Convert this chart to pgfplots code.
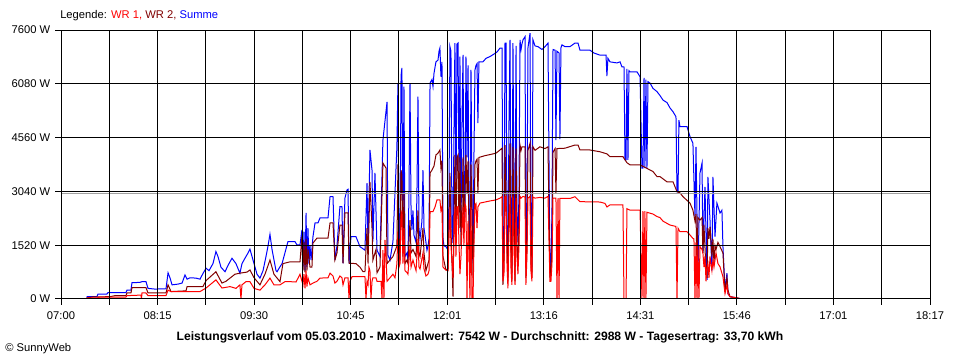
\documentclass[border=0pt]{standalone}
\usepackage{fontspec}
\setmainfont{Liberation Sans}
\usepackage{pgfplots}
\pgfplotsset{compat=1.18}
\usepackage{pgfplotstable}
\definecolor{wrone}{RGB}{255,0,0}
\definecolor{wrtwo}{RGB}{128,0,0}
\definecolor{summe}{RGB}{0,0,255}
\definecolor{avgc}{RGB}{160,160,160}
\newcommand\sw{\fontsize{8.4bp}{10bp}\selectfont}
\newcommand\tw{\fontsize{9.1bp}{11bp}\selectfont}

% time in minutes since 07:00, power in W
\pgfplotstableread{
t w
10.9 0
20.3 0
20.3 65
28.0 65
28.8 140
35.8 140
36.6 180
50.6 180
51.4 250
54.5 250
55.3 460
61.5 470
63.1 490
66.2 490
67.8 300
73.2 280
81.8 290
83.4 740
84.9 600
86.5 400
91.1 420
94.3 450
96.6 680
98.2 560
100.5 600
105.2 590
108.3 560
110.6 720
113.0 870
115.3 800
118.4 1000
120.7 1340
122.3 1200
124.6 900
127.8 770
130.1 950
133.2 1150
136.3 1000
139.4 730
141.0 1000
143.3 1150
145.7 1300
147.2 1410
149.6 1100
152.7 700
155.0 590
157.4 800
159.7 1200
161.3 1500
162.8 1830
164.4 1400
167.5 800
168.3 770
170.6 910
172.2 1000
173.7 1200
176.8 1620
182.3 1620
183.8 1530
186.2 1530
187.7 1950
188.5 900
189.3 1900
190.1 800
190.9 2430
191.6 900
192.4 2000
193.2 1000
194.0 1500
194.8 1100
196.3 1760
197.9 2150
200.2 2150
201.8 2290
208.0 2290
209.6 2890
211.9 2890
213.4 1100
215.0 1500
217.3 2610
218.9 2610
219.7 1010
221.2 2850
222.8 3080
223.6 3100
224.4 1010
225.9 1760
229.8 1760
232.9 1480
236.8 1380
238.4 3270
239.2 1480
240.7 4210
242.3 3640
243.0 1620
244.6 3560
246.2 1380
248.5 1200
250.8 4490
254.0 5570
254.7 1240
256.3 1100
258.6 1620
261.7 4300
262.5 6100
263.3 1380
264.1 1380
264.9 6300
265.6 6530
266.4 1500
267.2 6000
268.0 1200
269.5 1300
270.3 1100
271.1 3000
271.9 6100
272.7 2500
273.4 1950
274.2 2500
275.0 1800
276.6 1600
277.3 3000
278.1 5720
278.9 2000
279.7 1700
281.2 2200
282.0 3640
282.8 2000
283.6 1800
285.1 1380
285.9 1500
286.7 1700
287.5 6100
289.0 6200
289.8 6000
290.6 6380
292.1 6700
293.7 6750
294.5 7000
295.2 7090
296.0 6280
296.8 6700
297.6 1700
298.4 1500
299.9 1480
301.5 1380
302.3 3000
303.0 7130
303.8 7000
304.6 2000
305.4 1580
306.2 5000
306.9 7230
307.7 2500
308.5 7200
309.3 7230
310.1 3000
310.8 6850
311.6 1900
312.4 5000
313.2 6900
313.9 3000
314.7 2300
315.5 6850
316.3 4000
317.1 6600
317.8 2500
318.6 1010
319.4 6470
320.2 3000
321.0 1010
321.7 4000
322.5 6470
323.3 6600
324.1 6650
324.8 4970
325.6 6700
328.7 6700
331.1 6800
334.2 6850
337.3 6920
339.7 6980
342.0 7090
343.6 7090
344.3 630
345.1 1500
345.9 7230
346.7 7230
347.5 1700
348.2 900
349.0 5000
349.8 7320
350.6 2000
351.3 920
352.1 7230
352.9 3000
353.7 900
354.5 7150
355.2 2500
356.0 1600
356.8 3000
357.6 7320
358.4 7050
359.1 7200
359.9 7320
361.5 7410
362.2 900
363.0 2500
363.8 7100
365.4 7510
366.1 1800
366.9 900
367.7 7320
369.3 7150
371.6 7130
374.7 7050
377.1 7130
379.4 7230
380.9 820
381.7 820
382.5 2500
383.3 7050
384.9 7030
385.6 4490
386.4 7000
388.0 6950
388.7 4520
389.5 7100
390.3 7180
392.6 7130
396.5 7130
400.4 7230
402.8 7230
404.3 7030
412.1 7030
415.2 6950
419.9 6890
424.6 6890
425.3 6300
426.1 6800
427.7 6700
433.1 6670
435.5 6700
437.0 6560
438.6 6560
439.4 3930
440.2 3930
440.9 6500
441.7 3930
442.5 6450
443.3 6420
448.7 6420
451.1 6280
452.6 3700
453.4 3700
454.2 6250
454.9 3700
455.7 6200
456.5 3700
457.3 6140
458.9 6100
461.2 5950
464.3 5860
466.6 5750
469.0 5620
472.1 5550
474.4 5400
476.8 5290
479.1 5150
479.9 3030
480.7 3030
481.4 5050
482.2 4870
487.7 4870
490.0 4590
492.3 4400
493.9 2330
494.7 4300
496.2 630
497.8 3560
499.4 3840
500.1 1300
501.7 3170
503.3 540
504.0 3450
505.6 2230
507.1 800
507.9 3450
509.5 1760
511.0 2710
513.4 2430
514.9 2510
515.7 1480
517.3 250
518.8 730
519.6 150
521.2 65
526.6 30
530.5 0
}\summetab

\pgfplotstableread{
t w
20.3 0
20.3 30
24.9 60
38.2 65
42.1 95
50.6 95
51.4 170
54.5 170
55.3 320
66.2 320
67.8 170
81.8 170
83.4 400
85.7 210
97.4 230
98.2 350
110.6 350
113.0 520
120.7 770
125.4 450
128.5 500
135.5 700
139.4 730
144.9 760
147.2 820
150.4 600
155.0 400
158.9 700
162.8 1100
165.9 700
170.6 490
172.9 1000
178.4 1050
186.2 1050
187.7 1760
188.5 800
189.3 1600
190.1 750
190.9 1700
191.6 800
192.4 1400
194.0 900
195.5 900
196.3 1580
199.4 1720
208.0 1720
209.6 2150
211.9 2150
213.4 1100
215.0 1300
217.3 2090
218.9 2090
219.7 1010
221.2 2430
223.6 2430
224.4 1010
229.8 1000
232.9 900
235.3 770
236.8 770
238.4 2000
239.2 1000
240.7 3310
242.3 2000
243.0 1100
245.4 1400
246.2 740
248.5 900
250.8 3840
253.2 3700
254.0 1000
256.3 1100
258.6 1200
261.7 1500
262.5 3800
263.3 1100
264.1 1100
264.9 3640
265.6 3500
266.4 1200
267.2 3000
268.0 1000
269.5 1100
270.3 1000
271.9 2230
272.7 1300
274.2 1400
276.6 1200
278.1 2500
278.9 1300
279.7 1200
282.0 2000
282.8 1300
284.3 800
285.9 1000
286.7 1100
287.5 3560
289.0 3640
290.6 3760
292.1 4070
293.7 4120
295.2 4210
296.0 3700
296.8 3900
297.6 1200
299.9 820
301.5 850
303.0 3560
303.8 2000
305.4 65
306.2 2500
306.9 4070
307.7 1500
308.5 4000
309.3 4070
310.1 2000
310.8 4000
311.6 1500
312.4 2500
313.2 4000
313.9 2000
314.7 2900
315.5 4070
316.3 3000
317.1 3900
317.8 2000
318.6 1100
319.4 3800
320.2 2500
321.0 600
321.7 2000
322.5 3800
323.3 3900
324.1 3950
324.8 3000
325.6 4000
330.3 4050
334.2 4080
338.9 4120
342.0 4210
343.6 4260
344.3 400
345.1 1000
345.9 4350
347.5 1500
348.2 500
349.0 3000
349.8 4400
350.6 1200
351.3 500
352.1 4300
352.9 2000
353.7 500
354.5 4250
355.2 1500
356.0 1000
356.8 2000
357.6 4350
358.4 4200
359.1 4300
361.5 4300
362.2 600
363.0 1500
363.8 4200
365.4 4400
366.1 1000
366.9 600
367.7 4300
369.3 4200
373.1 4300
377.1 4250
379.4 4300
380.9 650
381.7 700
382.5 1500
383.3 4150
384.9 4250
385.6 3000
386.4 4250
392.6 4260
400.4 4350
402.8 4350
404.3 4210
412.1 4210
419.9 4160
425.3 4100
427.7 4020
437.8 4020
440.9 3850
443.3 3790
451.1 3790
456.5 3690
461.2 3600
464.3 3460
466.6 3460
472.1 3310
476.8 3310
479.9 3030
482.2 3000
484.6 2890
490.0 2710
492.3 2510
493.9 2200
494.7 2400
495.5 800
496.2 2300
497.8 2230
499.4 2300
500.1 1300
500.9 2100
502.5 800
503.3 600
504.0 2000
504.8 1700
505.6 2040
507.1 1200
507.9 1700
508.7 1000
509.5 1500
510.3 1400
511.8 1600
513.4 1480
515.7 1300
517.3 200
518.8 600
519.6 250
521.2 65
526.6 30
530.5 0
}\wrtwotab

\pgfplotstableread{
t w
20.3 0
20.3 30
28.0 30
30.4 55
50.6 55
51.4 95
62.3 110
62.7 0
63.1 170
66.2 170
67.8 95
81.8 95
83.4 250
85.7 210
108.3 210
113.0 310
120.7 540
125.4 310
128.5 330
131.7 350
136.3 300
139.4 400
140.2 0
141.0 400
144.1 490
147.2 490
150.4 300
155.0 250
158.9 400
162.8 590
165.9 400
170.6 400
174.5 490
178.4 490
183.1 480
186.2 700
188.5 400
189.3 700
190.1 300
190.9 800
191.6 350
192.4 600
194.0 400
196.3 450
199.4 500
201.8 590
208.0 600
209.6 730
211.9 650
213.4 450
215.0 500
217.3 650
218.9 600
219.7 400
221.2 600
223.6 600
224.4 0
225.1 500
226.7 630
236.8 630
237.6 0
238.4 500
239.2 400
239.9 900
240.7 800
241.5 0
242.3 500
243.0 600
245.4 600
246.2 500
249.3 500
250.1 0
250.8 1380
251.6 0
252.4 1670
253.2 1200
254.0 500
256.3 600
258.6 700
260.2 600
261.7 1000
262.5 1900
263.3 900
264.1 1000
264.9 2300
265.6 2500
266.4 1000
267.2 2000
268.0 800
269.5 750
270.3 700
271.9 1500
272.7 900
274.2 1100
276.6 800
278.1 1700
278.9 900
279.7 850
282.0 1300
282.8 850
284.3 650
285.9 700
286.7 800
287.5 2470
289.8 2470
291.4 2600
292.9 2800
295.2 2800
296.0 2500
296.8 2600
297.6 900
299.9 820
301.5 800
303.0 2600
303.8 1500
305.4 600
306.2 1800
306.9 2610
307.7 1200
308.5 2600
309.3 2610
310.1 1500
310.8 700
311.6 1200
312.4 2000
313.2 2600
313.9 1500
314.7 2700
315.5 2600
316.3 0
317.1 2200
317.8 1500
318.6 0
319.4 2600
320.2 0
321.0 0
321.7 1500
322.5 2660
323.3 2700
324.1 2000
324.8 2600
326.4 2710
330.3 2740
334.2 2770
338.9 2800
342.0 2850
343.6 2890
344.3 500
345.1 700
345.9 2890
346.7 2900
347.5 900
348.2 300
349.0 2000
349.8 2900
350.6 800
351.3 400
352.1 2900
352.9 1500
353.7 400
354.5 2850
355.2 1200
356.0 700
356.8 1500
357.6 2900
358.4 2850
359.9 2900
361.5 2880
362.2 400
363.0 1200
363.8 2850
365.4 2900
366.1 800
366.9 500
367.7 2880
369.3 2850
373.1 2870
377.1 2850
379.4 2900
380.9 500
381.7 500
382.5 1000
383.3 2850
385.6 2850
386.4 0
387.2 2850
388.0 0
388.7 2840
396.5 2840
400.4 2890
404.3 2750
419.9 2740
423.8 2700
425.3 2600
427.7 2660
437.8 2660
438.6 0
440.2 0
440.9 2550
443.3 2510
451.1 2510
452.6 0
453.4 2480
454.2 0
454.9 2480
455.7 0
456.5 2450
461.2 2400
464.3 2330
466.6 2300
469.0 2200
474.4 2090
479.1 2050
479.9 0
480.7 2000
482.2 1900
487.7 1900
490.0 1810
492.3 1710
493.1 1700
493.9 0
494.7 1600
495.5 0
496.2 1500
497.0 0
497.8 1480
499.4 1400
500.1 1300
500.9 900
501.7 1200
502.5 500
503.3 900
504.0 1000
504.8 600
505.6 1200
507.1 800
507.9 1100
508.7 900
509.5 1100
510.3 1300
511.8 1000
513.4 910
515.7 630
517.3 150
518.8 400
519.6 150
521.2 65
526.6 30
530.5 0
}\wronetab

\begin{document}
\begin{tikzpicture}
\useasboundingbox (0,0) rectangle (720bp,270bp);
\begin{axis}[
  at={(45.75bp,45.75bp)}, anchor=south west,
  scale only axis, width=651.75bp, height=201.75bp,
  xmin=0, xmax=677, ymin=0, ymax=7600,
  axis on top,
  axis line style={black, line width=0.75bp},
  tick pos=left, tick align=outside,
  major tick length=4.5bp,
  every tick/.style={black, line width=0.75bp},
  grid=major,
  major grid style={black, line width=0.75bp},
  xtick={0,37.611,75.222,112.833,150.444,188.056,225.667,263.278,300.889,338.5,376.111,413.722,451.333,488.944,526.556,564.167,601.778,639.389,677},
  xticklabels={07:00,,08:15,,09:30,,10:45,,12:01,,13:16,,14:31,,15:46,,17:01,,18:17},
  ytick={0,1520,3040,4560,6080,7600},
  yticklabels={0 W,1520 W,3040 W,4560 W,6080 W,7600 W},
  tick label style={font=\sw},
  xticklabel style={yshift=-1.5bp},
  every axis plot/.append style={line width=0.75bp, line join=miter},
]
\addplot[summe, mark=none] table[x=t, y=w] {\summetab};
\addplot[wrtwo, mark=none] table[x=t, y=w] {\wrtwotab};
\addplot[wrone, mark=none] table[x=t, y=w] {\wronetab};
\addplot[avgc, mark=none] coordinates {(0,2988) (677,2988)};
\end{axis}
\node[anchor=west, inner sep=0pt, font=\sw] at (45bp,258bp) {Legende: \textcolor{wrone}{WR 1,} \textcolor{wrtwo}{WR 2,} \textcolor{summe}{Summe}};
\node[anchor=center, inner sep=0pt, font=\tw\bfseries] at (360bp,17bp) {Leistungsverlauf vom 05.03.2010 - Maximalwert: 7542 W - Durchschnitt: 2988 W - Tagesertrag: 33,70 kWh};
\node[anchor=west, inner sep=0pt, font=\sw] at (3.75bp,8.25bp) {\textcopyright{} SunnyWeb};
\end{tikzpicture}
\end{document}
